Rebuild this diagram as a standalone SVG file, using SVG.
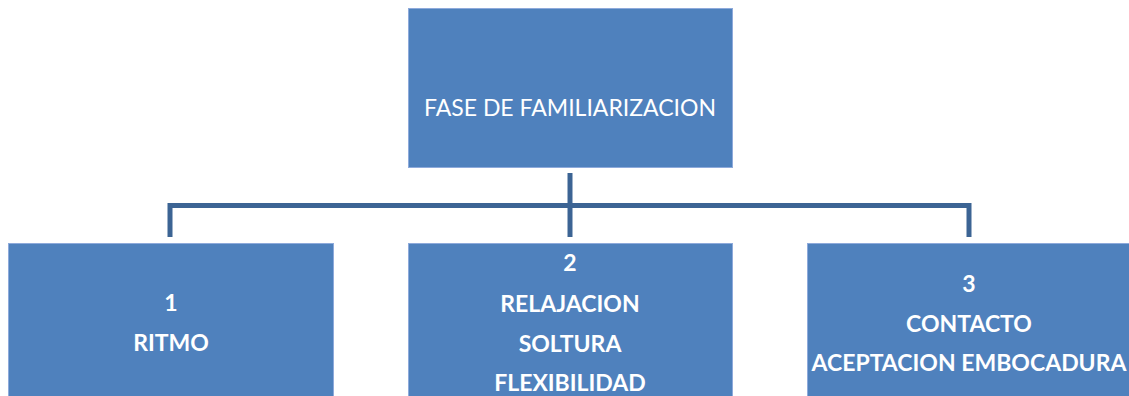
<svg xmlns="http://www.w3.org/2000/svg" width="1129" height="396" viewBox="0 0 1129 396">
<style>
.box{fill:#4F81BD;stroke:#8EAADB;stroke-width:1}
.t{fill:#FFFFFF;font-family:Lato,"Open Sans","Liberation Sans",sans-serif;font-size:23px;text-anchor:middle;dominant-baseline:central}
.b{font-weight:bold}
.c{fill:none;stroke:#3C6494;stroke-width:5;stroke-linecap:butt}
</style>
<rect width="1129" height="396" fill="#FFFFFF"/>
<g id="connectors">
<line class="c" x1="570" y1="173" x2="570" y2="237"/>
<polyline class="c" points="170,237 170,205.5 969,205.5 969,237"/>
</g>
<g id="top">
<rect class="box" x="408.5" y="8.5" width="324" height="159"/>
<text class="t" x="570" y="107">FASE DE FAMILIARIZACION</text>
</g>
<g id="node1">
<rect class="box" x="8.5" y="243.5" width="325" height="160"/>
<text class="t b" x="171" y="302">1</text>
<text class="t b" x="171" y="342">RITMO</text>
</g>
<g id="node2">
<rect class="box" x="408.5" y="243.5" width="324" height="160"/>
<text class="t b" x="570" y="262">2</text>
<text class="t b" x="570" y="303">RELAJACION</text>
<text class="t b" x="570" y="343">SOLTURA</text>
<text class="t b" x="570" y="382">FLEXIBILIDAD</text>
</g>
<g id="node3">
<rect class="box" x="807.5" y="243.5" width="325" height="160"/>
<text class="t b" x="969" y="283">3</text>
<text class="t b" x="969" y="323">CONTACTO</text>
<text class="t b" x="969" y="362">ACEPTACION EMBOCADURA</text>
</g>
</svg>
